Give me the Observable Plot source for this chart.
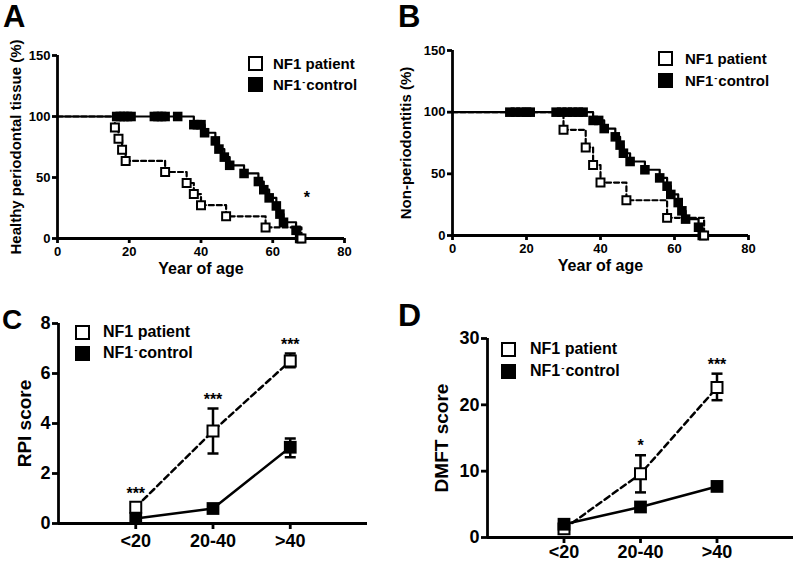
<!DOCTYPE html>
<html>
<head>
<meta charset="utf-8">
<script src="https://cdn.jsdelivr.net/npm/d3@7"></script>
<script src="https://cdn.jsdelivr.net/npm/@observablehq/plot@0.6"></script>
<style>
  body { margin: 0; background: #fff; }
  #fig { position: relative; width: 797px; height: 566px; overflow: hidden; background: #fff;
         font-family: "Liberation Sans", Arial, sans-serif; font-weight: bold; color: #000; }
  .panel { position: absolute; }
  .letter { position: absolute; line-height: 1; font-weight: bold; }
  .sq { position: absolute; box-sizing: border-box; border: 2px solid #000; }
  .lt { position: absolute; white-space: nowrap; }
  .lt sup { font-size: 0.6em; vertical-align: 0.55em; line-height: 0; margin: 0 1px 0 1px; }
</style>
</head>
<body>
<div id="fig"></div>
<script>
// ---------------- data ----------------
const seriesLabels = ["NF1 patient", "NF1<sup>-</sup>control"];
const ageTicks = [0, 20, 40, 60, 80];
const pctTicks = [0, 50, 100, 150];

// Panel A: healthy periodontal tissue (%)
const aPatientAge = [16, 17, 18, 19, 30, 36, 38, 40, 47, 58, 68];
const aPatientPct = [90.9, 81.8, 72.7, 63.6, 54.5, 45.5, 36.4, 27.3, 18.2, 9.1, 0];
const aControlAge = [16.5, 17.5, 18.5, 19.5, 20.5, 27, 28, 29, 30, 33.5,
                     38, 39, 40, 41, 44, 45, 46.5, 48, 52, 56, 57.5, 59, 61, 62, 63, 66.5, 67.5];
const aControlPct = [100, 100, 100, 100, 100, 100, 100, 100, 100, 100,
                     93.3, 93.3, 93.3, 86.7, 80, 73.3, 66.7, 60, 53.3, 46.7, 40, 33.3, 26.7, 20, 13.3, 6.7, 0];
const aStars = [{age: 69.5, pct: 33, label: "*"}];

// Panel B: non-periodontitis (%)
const bPatientAge = [30, 36, 38, 40, 47, 58, 68];
const bPatientPct = [85.7, 71.4, 57.1, 42.9, 28.6, 14.3, 0];
const bControlAge = [15.5, 17, 18.5, 20, 21, 28, 29.5, 31, 32.5, 34, 35.3,
                     38, 39.5, 41, 44, 45.3, 46.2, 48, 52, 56, 58, 59, 61, 62, 63, 66.5, 67.5];
const bControlPct = [100, 100, 100, 100, 100, 100, 100, 100, 100, 100, 100,
                     93.3, 93.3, 86.7, 80, 73.3, 66.7, 60, 53.3, 46.7, 40, 33.3, 26.7, 20, 13.3, 6.7, 0];
const bStars = [];

// Panels C and D: age groups
const ageGroups = ["<20", "20-40", ">40"];

const rpiPatient   = [0.65, 3.7, 6.5];
const rpiPatientLo = [0.65, 2.8, 6.25];
const rpiPatientHi = [0.65, 4.6, 6.8];
const rpiControl   = [0.2, 0.6, 3.05];
const rpiControlLo = [0.2, 0.6, 2.65];
const rpiControlHi = [0.2, 0.6, 3.4];
const rpiStars     = ["***", "***", "***"];
const rpiTicks     = [0, 2, 4, 6, 8];

const dmftPatient   = [1.3, 9.6, 22.6];
const dmftPatientLo = [1.3, 6.8, 20.7];
const dmftPatientHi = [1.3, 12.4, 24.7];
const dmftControl   = [2.0, 4.6, 7.7];
const dmftControlLo = [2.0, 4.6, 7.7];
const dmftControlHi = [2.0, 4.6, 7.7];
const dmftStars     = ["", "*", "***"];
const dmftTicks     = [0, 10, 20, 30];

// ---------------- drawing ----------------
const FONT = '"Liberation Sans", Arial, sans-serif';
const fig = document.getElementById("fig");

function place(node, left, top) {
  const d = document.createElement("div");
  d.className = "panel";
  d.style.left = left + "px";
  d.style.top = top + "px";
  d.appendChild(node);
  fig.appendChild(d);
}

function kmPanel(o) {
  const patient = o.pAge.map((age, i) => ({age, pct: o.pPct[i]}));
  const control = o.cAge.map((age, i) => ({age, pct: o.cPct[i]}));
  const origin = [{age: 0, pct: 100}];
  return Plot.plot({
    width: o.width, height: o.height,
    marginLeft: o.ml, marginRight: o.mr, marginTop: o.mt, marginBottom: o.mb,
    x: {domain: [0, 80]},
    y: {domain: [0, 150]},
    style: {fontFamily: FONT, fontSize: "13px", fontWeight: "bold", color: "black", background: "white", overflow: "visible"},
    marks: [
      Plot.ruleY([0], {x1: 0, x2: 80, strokeWidth: 2.8}),
      Plot.ruleX([0], {y1: 0, y2: 150, strokeWidth: 2.8}),
      Plot.axisX({ticks: ageTicks, tickSize: 5, tickPadding: 3, strokeWidth: 2.8, label: null, fontWeight: "bold"}),
      Plot.axisY({ticks: pctTicks, tickSize: 5, tickPadding: 2, strokeWidth: 2.8, label: null, fontWeight: "bold"}),
      Plot.line(origin.concat(control), {x: "age", y: "pct", curve: "step-after", strokeWidth: 2.2}),
      Plot.line(origin.concat(patient), {x: "age", y: "pct", curve: "step-after", strokeWidth: 2.2, strokeDasharray: "5,3"}),
      Plot.dot(control, {x: "age", y: "pct", symbol: "square", r: 5.4, fill: "black"}),
      Plot.dot(patient, {x: "age", y: "pct", symbol: "square", r: 4.5, fill: "white", stroke: "black", strokeWidth: 2}),
      Plot.text(["Year of age"], {frameAnchor: "bottom", textAnchor: "middle", dy: 35, fontSize: 16, fontWeight: "bold"}),
      Plot.text([o.ylabel], {frameAnchor: "left", textAnchor: "middle", dx: o.ylDx, rotate: -90, fontSize: 15, fontWeight: "bold"}),
      Plot.text(o.stars, {x: "age", y: "pct", text: "label", fontSize: 16, fontWeight: "bold"})
    ]
  });
}

const capSymbol = {
  draw(context, size) {
    const w = Math.sqrt(size / Math.PI);
    context.moveTo(-w, 0);
    context.lineTo(w, 0);
  }
};

function scorePanel(o) {
  const rows = (m, lo, hi) => ageGroups.map((g, i) => ({pos: i + 1, group: g, mean: m[i], lo: lo[i], hi: hi[i], star: o.stars ? o.stars[i] : ""}));
  const patient = rows(o.pMean, o.pLo, o.pHi);
  const control = rows(o.cMean, o.cLo, o.cHi);
  const errs = patient.concat(control).filter(d => d.hi > d.lo);
  const caps = errs.flatMap(d => [{pos: d.pos, v: d.lo}, {pos: d.pos, v: d.hi}]);
  const ymax = o.yticks[o.yticks.length - 1];
  return Plot.plot({
    width: o.width, height: o.height,
    marginLeft: o.ml, marginRight: o.mr, marginTop: o.mt, marginBottom: o.mb,
    x: {domain: [0, 4]},
    y: {domain: [0, ymax]},
    style: {fontFamily: FONT, fontSize: "18px", fontWeight: "bold", color: "black", background: "white", overflow: "visible"},
    marks: [
      Plot.ruleY([0], {x1: 0, x2: 4, strokeWidth: 2.8}),
      Plot.ruleX([0], {y1: 0, y2: ymax, strokeWidth: 2.8}),
      Plot.axisX({ticks: [1, 2, 3], tickFormat: i => ageGroups[i - 1], tickSize: 6, tickPadding: o.xpad, strokeWidth: 2.8, label: null, fontWeight: "bold"}),
      Plot.axisY({ticks: o.yticks, tickSize: 6, tickPadding: 2, strokeWidth: 2.8, label: null, fontWeight: "bold"}),
      Plot.line(control, {x: "pos", y: "mean", strokeWidth: 2.5}),
      Plot.line(patient, {x: "pos", y: "mean", strokeWidth: 2.5, strokeDasharray: "6,4"}),
      Plot.ruleX(errs, {x: "pos", y1: "lo", y2: "hi", strokeWidth: 2.5}),
      Plot.dot(caps, {x: "pos", y: "v", symbol: capSymbol, r: 5.5, fill: "none", stroke: "black", strokeWidth: 2.5}),
      Plot.dot(patient, {x: "pos", y: "mean", symbol: "square", r: 6.2, fill: "white", stroke: "black", strokeWidth: 2}),
      Plot.dot(control, {x: "pos", y: "mean", symbol: "square", r: 7.2, fill: "black"}),
      // significance marks: above the error bar cap, or above the marker when there is no bar
      Plot.text(patient.filter(d => d.hi > d.mean), {x: "pos", y: "hi", text: "star", dy: -9, fontSize: 16, fontWeight: "bold"}),
      Plot.text(patient.filter(d => !(d.hi > d.mean)), {x: "pos", y: "mean", text: "star", dy: -13, fontSize: 16, fontWeight: "bold"}),
      Plot.text([o.ylabel], {frameAnchor: "left", textAnchor: "middle", dx: o.ylDx, rotate: -90, fontSize: 19, fontWeight: "bold"})
    ]
  });
}

function legend(sqLeft, centers, textLeft, fs, sqSize) {
  seriesLabels.forEach((lab, i) => {
    const s = document.createElement("div");
    s.className = "sq";
    s.style.left = sqLeft + "px";
    s.style.top = (centers[i] - sqSize / 2) + "px";
    s.style.width = sqSize + "px";
    s.style.height = sqSize + "px";
    s.style.background = i === 0 ? "#fff" : "#000";
    fig.appendChild(s);
    const t = document.createElement("div");
    t.className = "lt";
    t.style.left = textLeft + "px";
    t.style.fontSize = fs + "px";
    t.style.lineHeight = fs + "px";
    t.style.top = (centers[i] - 0.49 * fs) + "px";
    t.innerHTML = lab;
    fig.appendChild(t);
  });
}

function letter(ch, left, top, fs) {
  const d = document.createElement("div");
  d.className = "letter";
  d.style.left = left + "px";
  d.style.top = top + "px";
  d.style.fontSize = fs + "px";
  d.textContent = ch;
  fig.appendChild(d);
}

// Panel A
place(kmPanel({
  width: 400, height: 290, ml: 57, mr: 56, mt: 55, mb: 52,
  pAge: aPatientAge, pPct: aPatientPct, cAge: aControlAge, cPct: aControlPct,
  ylabel: "Healthy periodontal tissue (%)", ylDx: -41, stars: aStars
}), 0, 0);

// Panel B
place(kmPanel({
  width: 397, height: 290, ml: 52, mr: 49, mt: 50, mb: 55,
  pAge: bPatientAge, pPct: bPatientPct, cAge: bControlAge, cPct: bControlPct,
  ylabel: "Non-periodontitis (%)", ylDx: -46, stars: bStars
}), 400, 0);

// Panel C
place(scorePanel({
  width: 400, height: 276, ml: 58, mr: 33, mt: 33, mb: 43, xpad: 5,
  pMean: rpiPatient, pLo: rpiPatientLo, pHi: rpiPatientHi,
  cMean: rpiControl, cLo: rpiControlLo, cHi: rpiControlHi,
  stars: rpiStars, yticks: rpiTicks, ylabel: "RPI score", ylDx: -34
}), 0, 290);

// Panel D
place(scorePanel({
  width: 397, height: 276, ml: 87, mr: 4, mt: 48, mb: 29, xpad: 2,
  pMean: dmftPatient, pLo: dmftPatientLo, pHi: dmftPatientHi,
  cMean: dmftControl, cLo: dmftControlLo, cHi: dmftControlHi,
  stars: dmftStars, yticks: dmftTicks, ylabel: "DMFT score", ylDx: -46
}), 400, 290);

// Legends
legend(248, [63, 84], 273, 15, 15);
legend(658, [58, 80], 685, 15, 15);
legend(75, [332, 353], 103, 16, 15);
legend(501, [349, 371], 530, 16, 15);

// Panel letters
letter("A", 3, 1, 31);
letter("B", 398, 1, 31);
letter("C", 2, 306, 28);
letter("D", 398, 299, 32);
</script>
</body>
</html>
